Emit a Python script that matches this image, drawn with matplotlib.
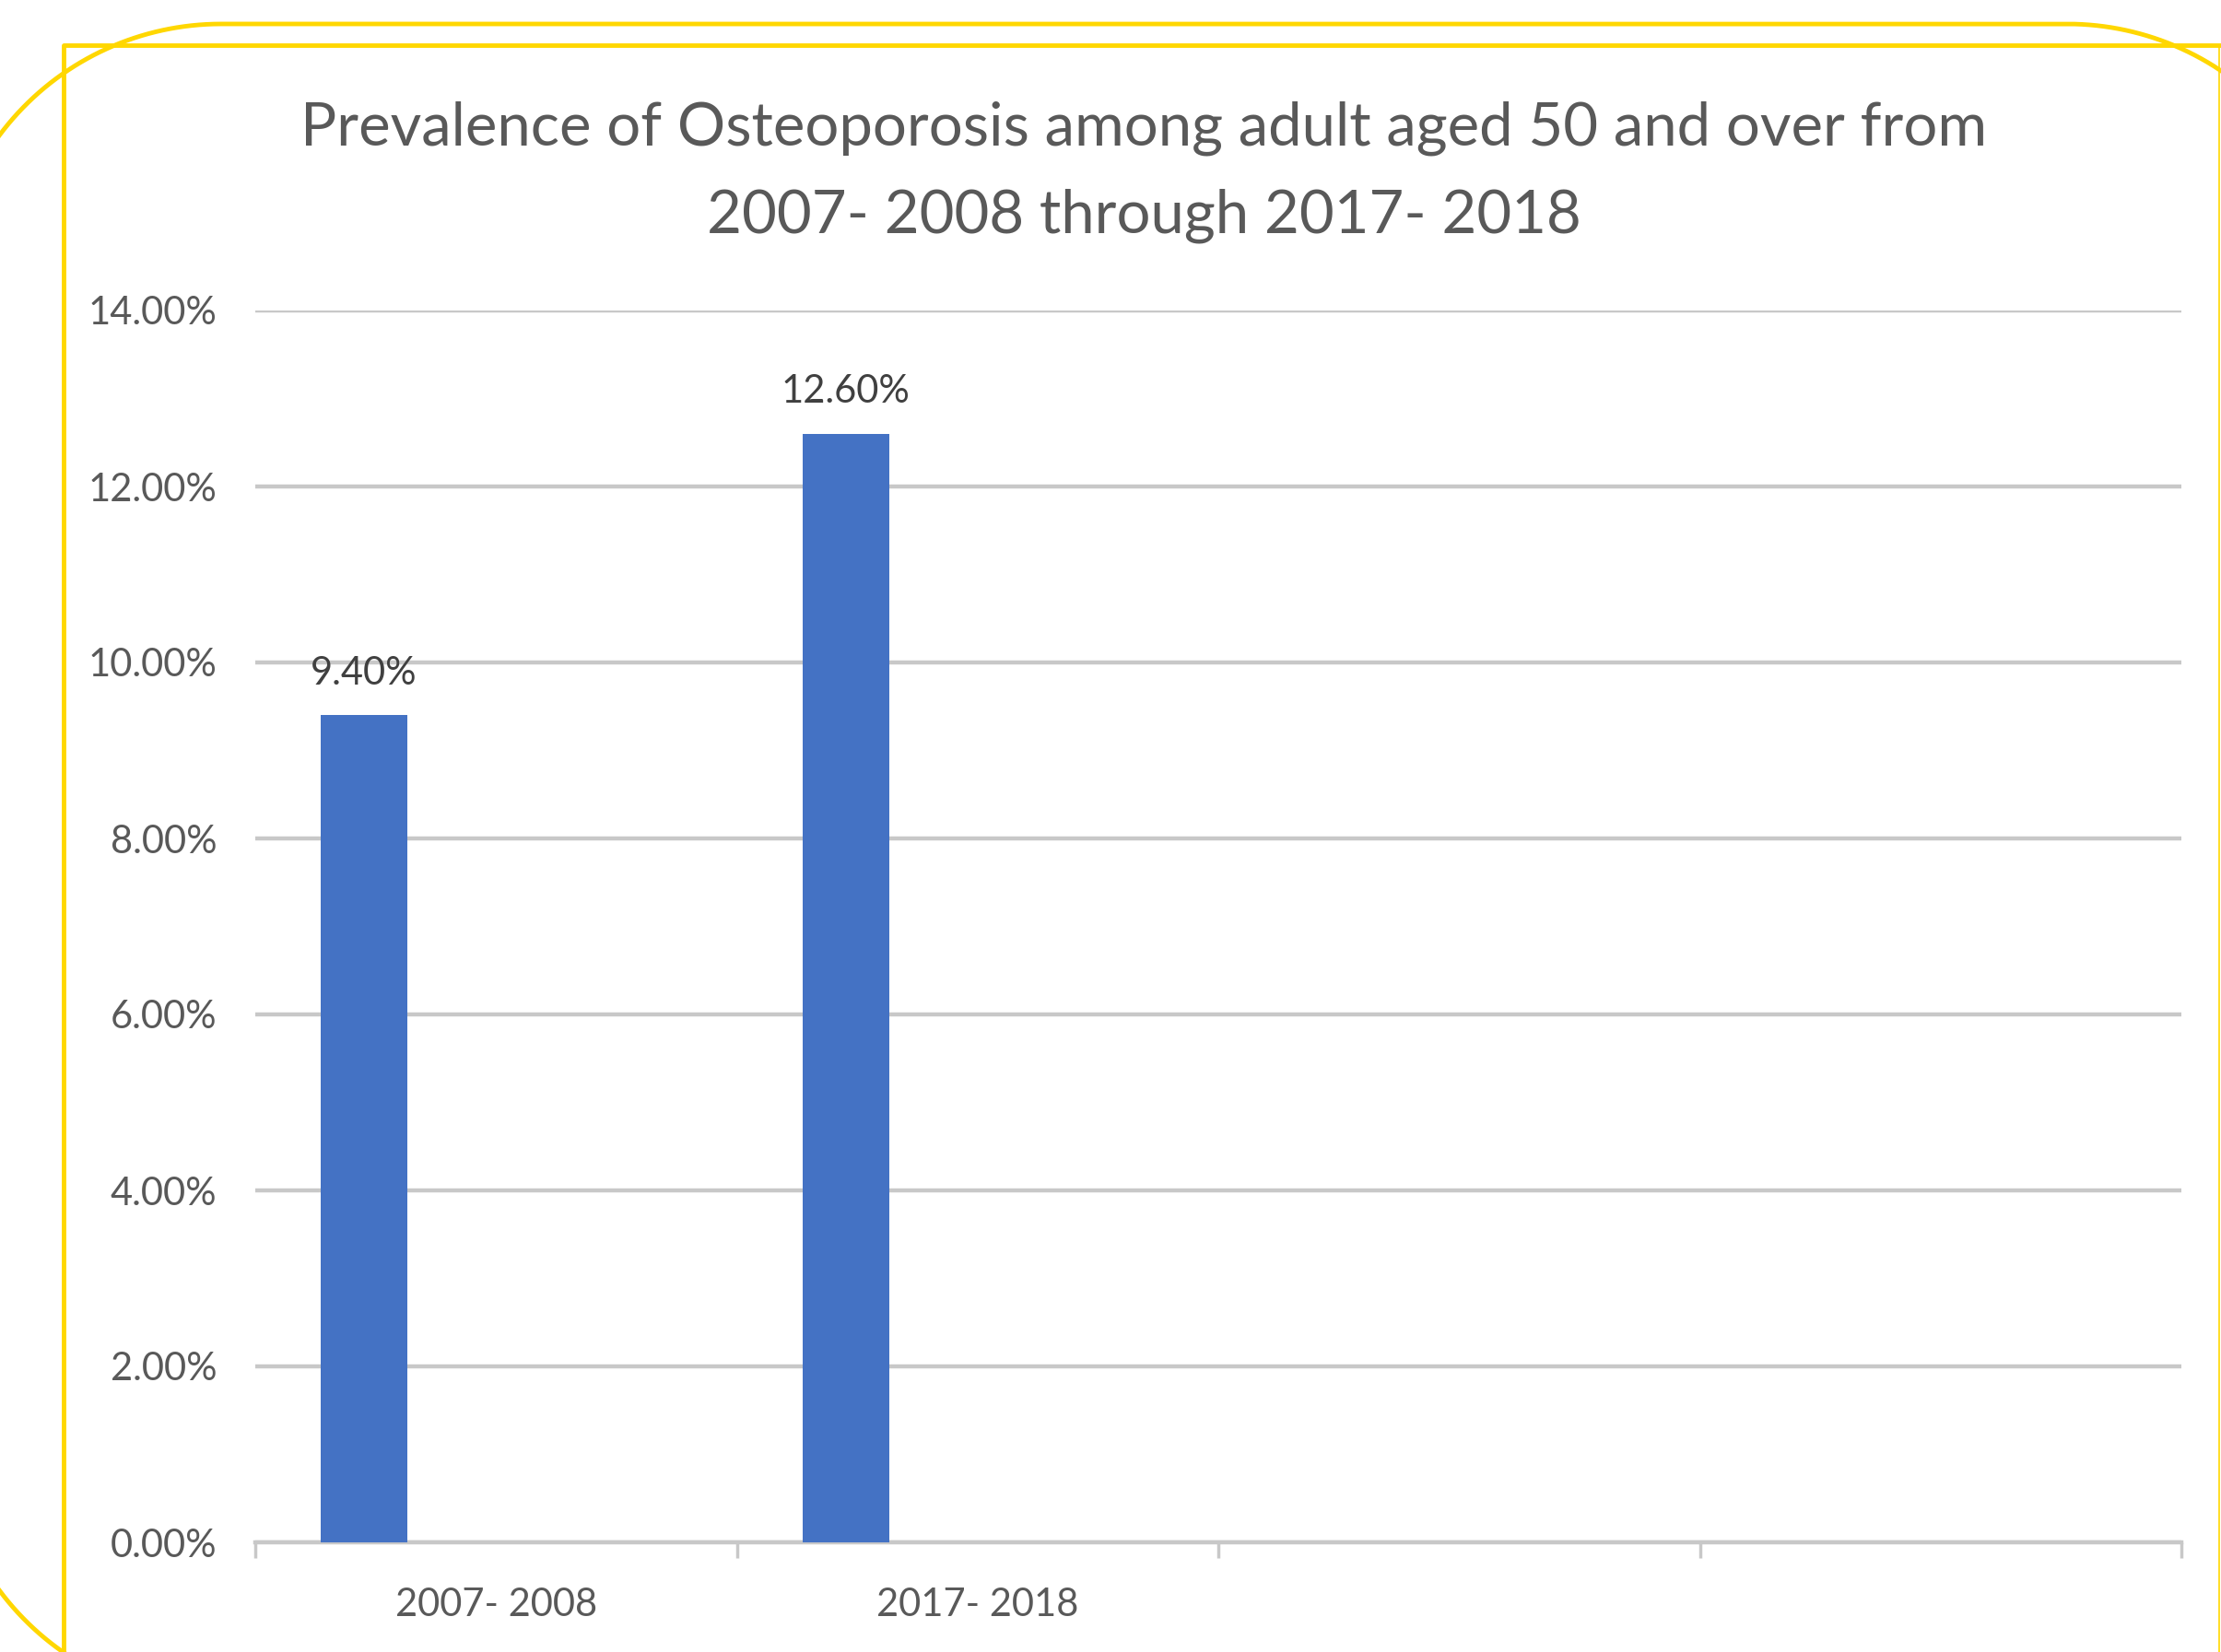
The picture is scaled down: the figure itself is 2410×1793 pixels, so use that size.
import numpy as np
import matplotlib
matplotlib.use("Agg")
import matplotlib.pyplot as plt
from matplotlib.lines import Line2D
from matplotlib.transforms import IdentityTransform
from matplotlib.ticker import FuncFormatter

plt.rcParams['font.family'] = ['Lato', 'DejaVu Sans']

# data
categories = ["2007- 2008", "2017- 2018", "", ""]
prevalence = [9.4, 12.6]          # percent, only the first two periods have values
bar_labels = ["9.40%", "12.60%"]
y_ticks = [0, 2, 4, 6, 8, 10, 12, 14]

W, H = 2410, 1793
fig = plt.figure(figsize=(W / 100, H / 100), dpi=100)
fig.patch.set_facecolor("white")

# plot area in pixels (left, top, right, bottom)
L, T, R, B = 277, 337, 2367, 1674
ax = fig.add_axes([L / W, 1 - B / H, (R - L) / W, (B - T) / H])

x = np.arange(len(prevalence)) - 0.274
ax.bar(x, prevalence, width=0.18, color="#4472C4", zorder=3)

for xi, v, lab in zip(x, prevalence, bar_labels):
    ax.annotate(lab, (xi, v), xytext=(0, 19), textcoords="offset points",
                ha="center", va="bottom", fontsize=30, color="#404040", zorder=4)

ax.set_xlim(-0.5, len(categories) - 0.5)
ax.set_ylim(0, 14)
ax.set_yticks(y_ticks)
ax.yaxis.set_major_formatter(FuncFormatter(lambda v, p: f"{v:.2f}%"))
ax.tick_params(axis="y", length=0, pad=30, labelsize=30, labelcolor="#595959")

# category boundaries as ticks, names in the middle
ax.set_xticks(np.arange(len(categories) + 1) - 0.5)
ax.set_xticklabels([])
ax.set_xticks(np.arange(len(categories)), minor=True)
ax.set_xticklabels(categories, minor=True)
ax.tick_params(axis="x", which="major", length=12, width=2.5, color="#c8c8c8")
ax.tick_params(axis="x", which="minor", length=0, pad=35, labelsize=30, labelcolor="#595959")

ax.grid(axis="y", color="#c8c8c8", linewidth=3.2, zorder=0)
ax.set_axisbelow(True)
for s in ["top", "right", "left"]:
    ax.spines[s].set_visible(False)
ax.spines["bottom"].set_color("#c8c8c8")
ax.spines["bottom"].set_linewidth(3.2)

fig.text(1241 / W, 1 - 139 / H, "Prevalence of Osteoporosis among adult aged 50 and over from",
         ha="center", va="center", fontsize=47, color="#595959")
fig.text(1241 / W, 1 - 234 / H, "2007- 2008 through 2017- 2018",
         ha="center", va="center", fontsize=47, color="#595959")

# yellow frames around the slide (pixel coords, y measured from the top)
gold = "#FFD700"
x0, x1, y0, y1, r = -60, 2543, 26, 1847, 300
t = np.linspace(0, np.pi / 2, 60)
px = np.concatenate([x0 + r - r * np.cos(t), x1 - r + r * np.sin(t),
                     x1 - r + r * np.cos(t), x0 + r - r * np.sin(t)])
py = np.concatenate([y0 + r - r * np.sin(t), y0 + r - r * np.cos(t),
                     y1 - r + r * np.sin(t), y1 - r + r * np.cos(t)])
px = np.append(px, px[0])
py = np.append(py, py[0])
fig.add_artist(Line2D(px, H - py, color=gold, linewidth=3.5,
                      transform=IdentityTransform()))
fig.add_artist(Line2D([69, 69, W + 5], [-5, H - 49, H - 49], color=gold,
                      linewidth=3.5, transform=IdentityTransform()))
fig.add_artist(Line2D([W - 2, W - 2], [-5, H - 49], color=gold,
                      linewidth=1.2, transform=IdentityTransform()))

fig.savefig("out.png", dpi=100)
